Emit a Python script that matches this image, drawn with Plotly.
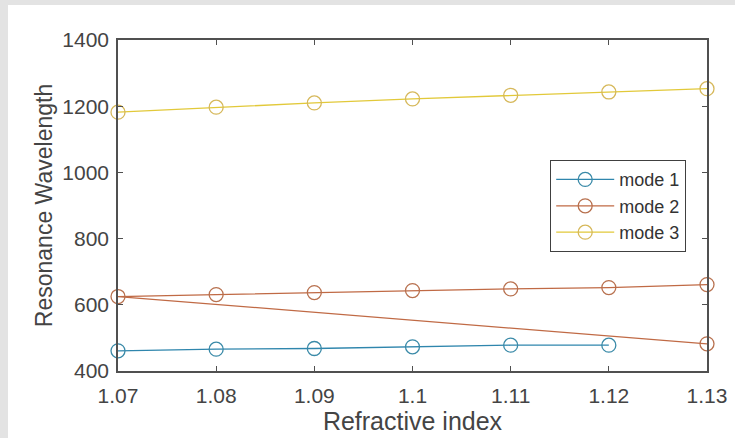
import plotly.graph_objects as go

# ---- data ----
refractive_index = [1.07, 1.08, 1.09, 1.10, 1.11, 1.12, 1.13]
mode1_x = [1.07, 1.08, 1.09, 1.10, 1.11, 1.12]
mode1_y = [461, 466, 468, 473, 478, 478]
mode2_x = [1.13, 1.07, 1.08, 1.09, 1.10, 1.11, 1.12, 1.13]
mode2_y = [482, 625, 631, 637, 643, 648, 652, 661]
mode3_x = refractive_index
mode3_y = [1182, 1197, 1210, 1222, 1233, 1243, 1253]
x_tick_vals = [1.07, 1.08, 1.09, 1.10, 1.11, 1.12, 1.13]
x_tick_text = ["1.07", "1.08", "1.09", "1.1", "1.11", "1.12", "1.13"]
y_tick_vals = [400, 600, 800, 1000, 1200, 1400]

names = ["mode 1", "mode 2", "mode 3"]
line_colors = ["#2f86ad", "#c06a45", "#e2c93a"]
marker_colors = ["#3a8aa8", "#b8714f", "#d6b85a"]

W, H = 735, 438
L, R, T, B = 118, 28, 40, 67
pw, ph = W - L - R, H - T - B

fig = go.Figure()
for xs, ys, nm, lc, mc in zip([mode1_x, mode2_x, mode3_x],
                              [mode1_y, mode2_y, mode3_y],
                              names, line_colors, marker_colors):
    fig.add_trace(go.Scatter(
        x=xs, y=ys, name=nm, mode="lines+markers",
        line=dict(color=lc, width=1.3),
        marker=dict(symbol="circle-open", size=14, color=mc, line=dict(width=1.3, color=mc)),
        cliponaxis=False,
    ))

font_family = "Liberation Sans, Arial, sans-serif"
axis_common = dict(
    showline=True, linecolor="#505050", linewidth=1.6, mirror="ticks",
    ticks="inside", ticklen=5, tickwidth=1, tickcolor="#505050",
    showgrid=False, zeroline=False, automargin=False,
    tickfont=dict(family=font_family, size=21, color="#444444"),
)

fig.update_layout(
    width=W, height=H,
    margin=dict(l=L, r=R, t=T, b=B),
    paper_bgcolor="white", plot_bgcolor="white",
    showlegend=True,
    legend=dict(
        x=(686 - L) / pw, xanchor="right",
        y=1 - (160 - T) / ph, yanchor="top",
        bgcolor="white", bordercolor="#404040", borderwidth=1.2,
        font=dict(family=font_family, size=18, color="#333333"),
        itemwidth=58, tracegroupgap=0,
    ),
    xaxis=dict(
        range=[1.07, 1.13], tickvals=x_tick_vals, ticktext=x_tick_text,
        ticklabelstandoff=5,
        title=dict(text="Refractive index", font=dict(family=font_family, size=25, color="#444444"), standoff=4),
        **axis_common,
    ),
    yaxis=dict(
        range=[400, 1400], tickvals=y_tick_vals,
        ticklabelstandoff=3,
        title=dict(text="Resonance Wavelength", font=dict(family=font_family, size=23, color="#444444"), standoff=3),
        **axis_common,
    ),
    shapes=[
        dict(type="rect", xref="paper", yref="paper",
             x0=-L / pw, x1=(8 - L) / pw, y0=-B / ph, y1=1 + T / ph,
             fillcolor="#e3e3e3", line=dict(width=0), layer="below"),
        dict(type="rect", xref="paper", yref="paper",
             x0=-L / pw, x1=1 + R / pw, y0=1 + (T - 5) / ph, y1=1 + T / ph,
             fillcolor="#e3e3e3", line=dict(width=0), layer="below"),
    ],
)

fig.write_html("out.html")
